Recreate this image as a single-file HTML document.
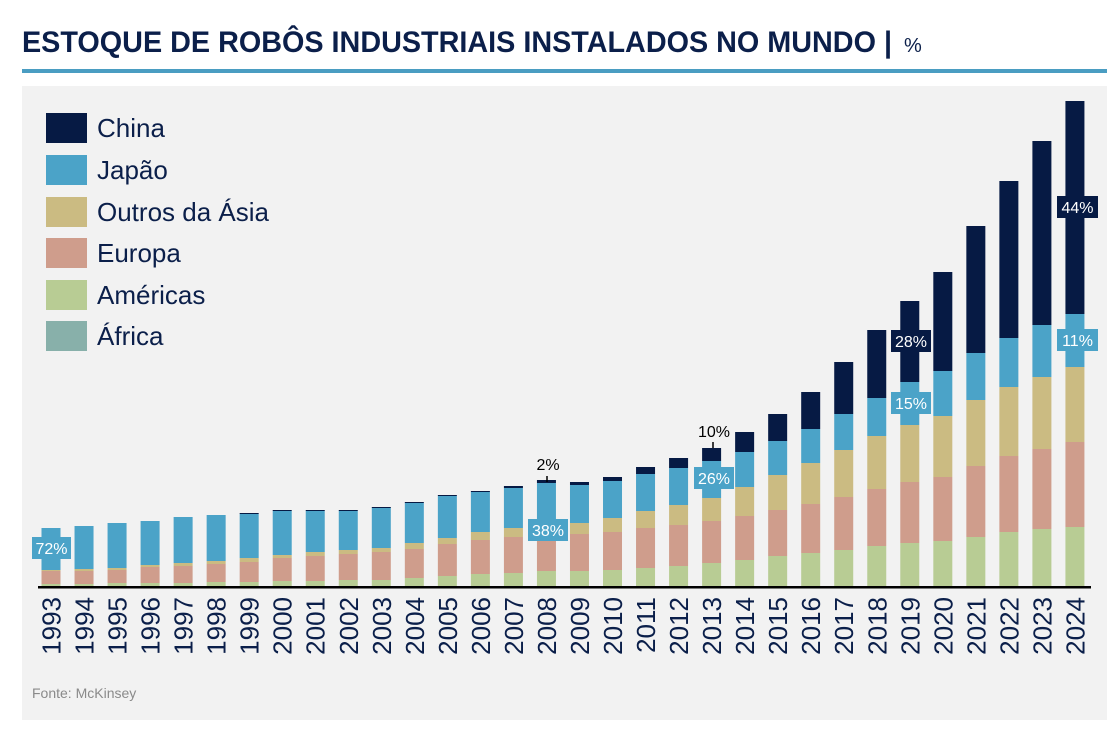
<!DOCTYPE html>
<html><head><meta charset="utf-8"><style>
html,body{margin:0;padding:0;background:#fff;}
svg{display:block;font-family:"Liberation Sans",sans-serif;}
</style></head><body>
<svg id="s" width="1111" height="735" viewBox="0 0 1111 735" xmlns="http://www.w3.org/2000/svg">
<text x="22" y="52" font-size="30" font-weight="bold" fill="#0b1f4a" textLength="870" lengthAdjust="spacingAndGlyphs">ESTOQUE DE ROBÔS INDUSTRIAIS INSTALADOS NO MUNDO |</text>
<text x="904" y="52" font-size="20" fill="#0b1f4a">%</text>
<rect x="22" y="69" width="1085" height="4" fill="#4a9dc2"/>
<rect x="22" y="86" width="1085" height="634" fill="#f2f2f2"/>
<g id="legend" font-size="26" fill="#0b1f4a">
<rect x="46" y="113" width="41" height="30" fill="#061a44"/><text x="97" y="137">China</text>
<rect x="46" y="155" width="41" height="30" fill="#4ba3c8"/><text x="97" y="179">Japão</text>
<rect x="46" y="197" width="41" height="30" fill="#cbbb82"/><text x="97" y="221">Outros da Ásia</text>
<rect x="46" y="238" width="41" height="30" fill="#cf9d8c"/><text x="97" y="262">Europa</text>
<rect x="46" y="280" width="41" height="30" fill="#b8cc94"/><text x="97" y="304">Américas</text>
<rect x="46" y="321" width="41" height="30" fill="#88b0aa"/><text x="97" y="345">África</text>
</g>
<g id="bars"></g>
<rect x="38" y="586" width="1053" height="2.5" fill="#000"/>
<g id="labels" font-size="16" text-anchor="middle">
<rect x="32" y="537" width="39" height="22" fill="#4ba3c8"/><text x="51.5" y="554" fill="#fff">72%</text>
<line x1="547" y1="476" x2="547" y2="482" stroke="#000" stroke-width="1.5"/>
<text x="548" y="470" fill="#000">2%</text>
<rect x="528" y="519" width="40" height="22" fill="#4ba3c8"/><text x="548" y="536" fill="#fff">38%</text>
<line x1="713" y1="442" x2="713" y2="448" stroke="#000" stroke-width="1.5"/>
<text x="714" y="437" fill="#000">10%</text>
<rect x="694" y="467" width="40" height="22" fill="#4ba3c8"/><text x="714" y="484" fill="#fff">26%</text>
<rect x="891" y="330" width="40" height="22" fill="#061a44"/><text x="911" y="347" fill="#fff">28%</text>
<rect x="891" y="392" width="40" height="22" fill="#4ba3c8"/><text x="911" y="409" fill="#fff">15%</text>
<rect x="1057" y="196" width="41" height="22" fill="#061a44"/><text x="1077.5" y="213" fill="#fff">44%</text>
<rect x="1057" y="329" width="41" height="22" fill="#4ba3c8"/><text x="1077.5" y="346" fill="#fff">11%</text>
</g>
<text x="32" y="698" font-size="14" fill="#8a8a8a">Fonte: McKinsey</text>
</svg>
<script>
var d=[
[528,528,570,571,584],[526,526,569,571,584],[523,523,568,570,583],[521,521,565,567,583],
[517,517,563,566,583],[515,515,561,564,582],[513,514,558,562,582],[510,511,555,558,581],
[510,511,552,556,581],[510,511,550,554,580],[507,508,548,552,580],[502,503,543,549,578],
[495,496,538,544,576],[491,492,532,540,574],[486,488,528,537,573],[480,483,524,535,571],
[482,485,523,534,571],[477,481,518,532,570],[467,474,511,528,568],[458,468,505,525,566],
[448,461,498,521,563],[432,452,487,516,560],[414,441,475,510,556],[392,429,463,504,553],
[362,414,450,497,550],[330,398,436,489,546],[301,382,425,482,543],[272,371,416,477,541],
[226,353,400,466,537],[181,338,387,456,532],[141,325,377,449,529],[101,314,367,442,527]];
var c=["#061a44","#4ba3c8","#cbbb82","#cf9d8c","#b8cc94"];
var ns="http://www.w3.org/2000/svg",g=document.getElementById("bars"),s=document.getElementById("s");
for(var i=0;i<d.length;i++){
 var cx=51+i*33.03,r=d[i].concat([586]);
 for(var k=0;k<5;k++){var h=r[k+1]-r[k];if(h<=0)continue;
  var e=document.createElementNS(ns,"rect");e.setAttribute("x",cx-9.5);e.setAttribute("y",r[k]);
  e.setAttribute("width",19);e.setAttribute("height",h);e.setAttribute("fill",c[k]);g.appendChild(e);}
 var t=document.createElementNS(ns,"text");t.setAttribute("transform","translate("+(cx+9.5)+",597) rotate(-90)");
 t.setAttribute("text-anchor","end");t.setAttribute("font-size","26");t.setAttribute("fill","#0b1f4a");
 t.textContent=String(1993+i);s.appendChild(t);
}
</script>
</body></html>
